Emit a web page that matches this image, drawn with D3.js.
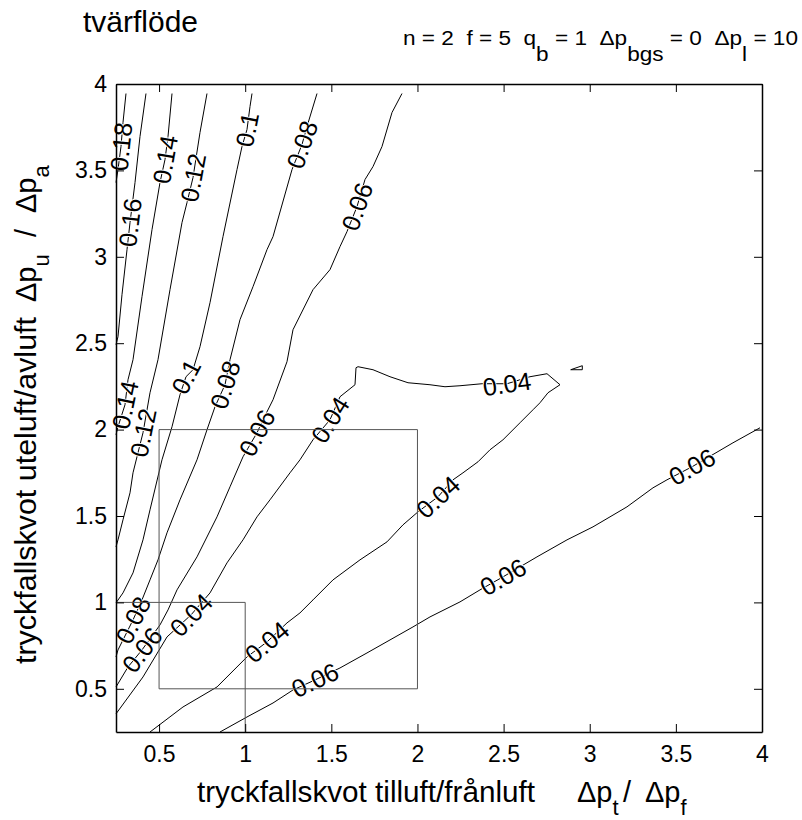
<!DOCTYPE html>
<html><head><meta charset="utf-8">
<script src="https://cdn.jsdelivr.net/npm/d3@7"></script>
<style>
body{margin:0;background:#fff}
svg{display:block}
text{font-family:"Liberation Sans",Arial,Helvetica,sans-serif}
</style></head><body>
<svg id="chart" width="802" height="820"></svg>
<script>
// ---------- data ----------
const xTicks = [0.5, 1, 1.5, 2, 2.5, 3, 3.5, 4];
const yTicks = [0.5, 1, 1.5, 2, 2.5, 3, 3.5, 4];

const line018 = [[0.308,3.9449],[0.2906,3.777],[0.279,3.638],[0.2616,3.5048],[0.25,3.4295]];
const labels018 = [[0.279,3.638]];

const line016 = [[0.4241,3.9449],[0.3893,3.6959],[0.3603,3.4295],[0.3313,3.1978],[0.3139,3.0414],[0.2848,2.7808],[0.2616,2.5376],[0.25,2.4913]];
const labels016 = [[0.3313,3.1978]];

const line014 = [[0.5751,3.9449],[0.5519,3.6959],[0.5344,3.5627],[0.5054,3.4295],[0.459,3.1573],[0.4009,2.7692],[0.3487,2.4044],[0.3197,2.2886],[0.3022,2.1438],[0.2616,2.0164],[0.25,1.97]];
const labels014 = [[0.5344,3.5627],[0.3022,2.1438]];

const line012 = [[0.7782,3.9449],[0.7376,3.719],[0.697,3.4584],[0.6621,3.3136],[0.6331,3.1978],[0.5635,2.8098],[0.4938,2.4044],[0.4474,2.2133],[0.4067,1.9816],[0.3719,1.8426],[0.3487,1.75],[0.3313,1.6341],[0.2906,1.4778],[0.2616,1.3619],[0.25,1.3214]];
const labels012 = [[0.697,3.4584],[0.4067,1.9816]];

const line010 = [[1.0395,3.9449],[1.0279,3.8696],[1.0104,3.7364],[0.9814,3.638],[0.9524,3.5048],[0.8711,3.1167],[0.7957,2.7345],[0.7376,2.4797],[0.697,2.3465],[0.6563,2.306],[0.6215,2.2017],[0.5751,2.0164],[0.517,1.8253],[0.4474,1.5357],[0.4067,1.3619],[0.3487,1.1708],[0.2906,1.055],[0.25,0.9971]];
const labels010 = [[1.0104,3.7364],[0.6563,2.306]];

const line008 = [[1.4168,3.9449],[1.3587,3.7538],[1.3297,3.6496],[1.2717,3.5048],[1.1614,3.1167],[1.1265,3.0414],[1.0453,2.8272],[0.9698,2.636],[0.9118,2.4044],[0.8827,2.2596],[0.8247,2.1322],[0.7782,1.999],[0.7202,1.8253],[0.6215,1.5936],[0.546,1.4025],[0.4938,1.2461],[0.4474,1.1303],[0.4009,1.0145],[0.3487,0.8986],[0.2616,0.7249],[0.25,0.6844]];
const labels008 = [[1.3297,3.6496],[0.8827,2.2596],[0.3487,0.8986]];

const line006a = [[1.9102,3.9449],[1.8521,3.8349],[1.7941,3.638],[1.7418,3.5221],[1.6954,3.4469],[1.649,3.2905],[1.5909,3.1457],[1.5503,3.0588],[1.4922,2.9256],[1.3936,2.8098],[1.2775,2.5781],[1.2426,2.3928],[1.1614,2.1727],[1.1033,2.0569],[1.0685,1.9816],[0.9872,1.8426],[0.9118,1.6689],[0.8363,1.4951],[0.7202,1.2635],[0.6041,1.0724],[0.5519,0.9565],[0.5054,0.8697],[0.4009,0.7249],[0.3197,0.6264],[0.25,0.5106]];
const labels006a = [[1.649,3.2905],[1.0685,1.9816],[0.4009,0.7249]];

const line004 = [[0.25,0.355],[0.4067,0.5685],[0.546,0.8002],[0.6854,0.9276],[0.7957,1.055],[0.8943,1.2287],[0.9872,1.3619],[1.0685,1.4951],[1.1439,1.5936],[1.2601,1.75],[1.3181,1.8253],[1.3936,1.9411],[1.4922,2.0569],[1.5503,2.1901],[1.6374,2.2596],[1.6432,2.3581],[1.6548,2.3639],[1.7418,2.3465],[1.8405,2.306],[1.945,2.2712],[2.0727,2.2596],[2.1598,2.248],[2.2469,2.2538],[2.3746,2.2654],[2.5197,2.2654],[2.6532,2.306],[2.752,2.3233],[2.8274,2.2596],[2.7578,2.2133],[2.7113,2.1554],[2.6706,2.1148],[2.5952,2.0396],[2.4965,1.9411],[2.421,1.8832],[2.3514,1.8137],[2.2643,1.75],[2.2063,1.7094],[2.1192,1.611],[2.0031,1.5241],[1.916,1.4488],[1.8231,1.3503],[1.6664,1.2461],[1.5097,1.1303],[1.3936,1.0145],[1.3181,0.9392],[1.2426,0.8813],[1.1265,0.7712],[1.0104,0.6844],[0.8363,0.5106],[0.6389,0.3948],[0.4474,0.25]];
const labels004 = [[0.6854,0.9276],[1.4922,2.0569],[2.5197,2.2654],[2.1192,1.611],[1.1265,0.7712]];

const islet004 = [[2.8896,2.3465],[2.9569,2.3697],[2.9569,2.3465],[2.8896,2.3465]];

const line006b = [[0.8537,0.25],[1.0104,0.3369],[1.1614,0.4179],[1.2775,0.4932],[1.4052,0.5512],[1.5503,0.6206],[1.707,0.7075],[1.974,0.8581],[2.0727,0.916],[2.2469,1.0029],[2.363,1.0724],[2.4965,1.1477],[2.6938,1.2635],[2.868,1.3619],[3.019,1.4372],[3.2163,1.553],[3.3672,1.6631],[3.4485,1.7094],[3.5936,1.7847],[3.8316,1.9237],[3.9884,2.0106]];
const labels006b = [[1.4052,0.5512],[2.4965,1.1477],[3.5936,1.7847]];

const boxOuter = [[0.5,0.5],[2,0.5],[2,2],[0.5,2],[0.5,0.5]];
const boxInner = [[0.25,1],[1,1],[1,0.25]];

const contours = [
  {level:0.18, pts:line018,  labels:labels018},
  {level:0.16, pts:line016,  labels:labels016},
  {level:0.14, pts:line014,  labels:labels014},
  {level:0.12, pts:line012,  labels:labels012},
  {level:0.1,  pts:line010,  labels:labels010},
  {level:0.08, pts:line008,  labels:labels008},
  {level:0.06, pts:line006a, labels:labels006a},
  {level:0.04, pts:line004,  labels:labels004},
  {level:0.04, pts:islet004, labels:[]},
  {level:0.06, pts:line006b, labels:labels006b}
];

// ---------- layout ----------
const W = 802, H = 820;
const svg = d3.select('#chart');
const x = d3.scaleLinear().domain([0.25, 4]).range([116, 762]);
const y = d3.scaleLinear().domain([0.25, 4]).range([732, 84]);
const line = d3.line().x(d => x(d[0])).y(d => y(d[1]));

const defs = svg.append('defs');
const mask = defs.append('mask').attr('id','lblmask')
  .attr('maskUnits','userSpaceOnUse').attr('x',0).attr('y',0).attr('width',W).attr('height',H);
mask.append('rect').attr('width',W).attr('height',H).attr('fill','white');

const gC = svg.append('g').attr('mask','url(#lblmask)');
const gL = svg.append('g');

function labelAngle(pts, p) {
  let best = 0, bd = Infinity;
  pts.forEach((q, i) => {
    const d = (q[0]-p[0])**2 + (q[1]-p[1])**2;
    if (d < bd) { bd = d; best = i; }
  });
  const a = pts[Math.max(0, best-1)], b = pts[Math.min(pts.length-1, best+1)];
  let ang = Math.atan2(y(b[1]) - y(a[1]), x(b[0]) - x(a[0])) * 180 / Math.PI;
  if (ang > 90) ang -= 180;
  if (ang <= -90) ang += 180;
  return ang;
}

contours.forEach(c => {
  gC.append('path').attr('d', line(c.pts))
    .attr('fill','none').attr('stroke','#000').attr('stroke-width',1);
  c.labels.forEach(p => {
    const ang = labelAngle(c.pts, p);
    const tr = `translate(${x(p[0])},${y(p[1])}) rotate(${ang})`;
    const txt = String(c.level);
    mask.append('text').attr('transform',tr).attr('text-anchor','middle').attr('dy','0.36em')
      .attr('font-size',25).attr('fill','black').attr('stroke','black').attr('stroke-width',2)
      .text(txt);
    gL.append('text').attr('transform',tr).attr('text-anchor','middle').attr('dy','0.36em')
      .attr('font-size',25).attr('fill','#000').text(txt);
  });
});

// boxes
[boxOuter, boxInner].forEach(b => {
  svg.append('path').attr('d', line(b)).attr('fill','none')
    .attr('stroke','#555').attr('stroke-width',1);
});

// axes
const fmt = d => String(d);
function styleAxis(g) {
  g.select('.domain').attr('stroke','#000').attr('stroke-width',1.5);
  g.selectAll('.tick line').attr('stroke','#000').attr('stroke-width',1);
  g.selectAll('text').attr('font-size',23).attr('fill','#000');
}
svg.append('g').attr('transform','translate(0,732)')
  .call(d3.axisBottom(x).tickValues(xTicks).tickSizeInner(-8).tickSizeOuter(0).tickPadding(14).tickFormat(fmt))
  .call(styleAxis);
svg.append('g').attr('transform','translate(116,0)')
  .call(d3.axisLeft(y).tickValues(yTicks).tickSizeInner(-8).tickSizeOuter(0).tickPadding(9).tickFormat(fmt))
  .call(styleAxis);
svg.append('g').attr('transform','translate(0,84)')
  .call(d3.axisTop(x).tickValues(xTicks).tickSizeInner(-8).tickSizeOuter(0).tickFormat(() => ''))
  .call(styleAxis);
svg.append('g').attr('transform','translate(762,0)')
  .call(d3.axisRight(y).tickValues(yTicks).tickSizeInner(-8).tickSizeOuter(0).tickFormat(() => ''))
  .call(styleAxis);

// title
svg.append('text').attr('x',83).attr('y',32).attr('font-size',29)
  .attr('textLength',115).attr('lengthAdjust','spacingAndGlyphs').text('tvärflöde');

// parameter line
const sub = svg.append('text').attr('x',403).attr('y',45).attr('font-size',20)
  .style('white-space','pre').attr('textLength',395).attr('lengthAdjust','spacingAndGlyphs');
const subParts = [['n = 2  f = 5  q',0],['b',1],[' = 1  Δp',0],['bgs',1],[' = 0  Δp',0],['l',1],[' = 10',0]];
let prev = 0;
subParts.forEach(([t, s]) => {
  sub.append('tspan').attr('dy', (s - prev) * 16).text(t);
  prev = s;
});

// x label
const xl = svg.append('g');
xl.append('text').attr('x',197).attr('y',802).attr('font-size',29)
  .attr('textLength',338).attr('lengthAdjust','spacingAndGlyphs').text('tryckfallskvot tilluft/frånluft');
function deltaLabel(g, parts) {
  parts.forEach(([xStart, main, subTxt]) => {
    const t = g.append('text').attr('x', xStart).attr('y', 0).attr('font-size', 29);
    t.append('tspan').text(main);
    if (subTxt) t.append('tspan').attr('dy', 13).attr('font-size', 22).text(subTxt);
  });
}
const xd = xl.append('g').attr('transform','translate(0,802)');
deltaLabel(xd, [[577,'Δp','t'],[623,'/',null],[645,'Δp','f']]);

// y label
const yl = svg.append('g').attr('transform','translate(36,664) rotate(-90)');
yl.append('text').attr('x',0).attr('y',0).attr('font-size',29)
  .attr('textLength',347).attr('lengthAdjust','spacingAndGlyphs').text('tryckfallskvot uteluft/avluft');
deltaLabel(yl, [[362,'Δp','u'],[427,'/',null],[451,'Δp','a']]);
</script>
</body></html>
